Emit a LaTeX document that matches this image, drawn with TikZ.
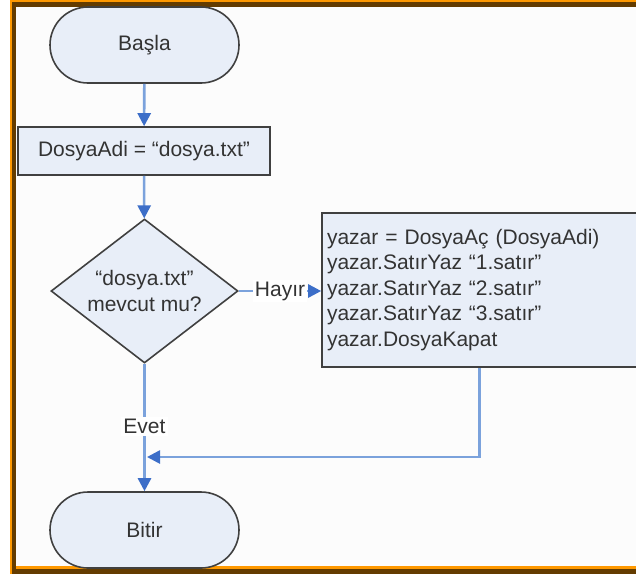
\documentclass[tikz,border=0pt]{standalone}
\usepackage{fontspec}
\setmainfont{Liberation Sans}
\usetikzlibrary{shapes.geometric,arrows.meta}
\definecolor{boxfill}{HTML}{E8EEF8}
\definecolor{boxline}{HTML}{404040}
\definecolor{txt}{HTML}{333333}
\definecolor{flow}{HTML}{7BA2DC}
\definecolor{flowtip}{HTML}{3C6EC8}
\definecolor{frameorange}{HTML}{FF9900}
\definecolor{framebrown}{HTML}{643C00}
\tikzset{
  base/.style={draw=boxline, line width=1.6pt, fill=boxfill, text=txt,
    font=\fontsize{21}{25.5}\selectfont, inner sep=0pt},
  terminal/.style={base, rectangle, rounded corners=38pt,
    minimum width=189pt, minimum height=76pt},
  process/.style={base, rectangle},
  decision/.style={base, diamond, aspect=1.3,
    minimum width=187pt, minimum height=144pt, align=center},
  flowline/.style={draw=flow, line width=2.6pt,
    -{Triangle[length=13pt,width=13pt,color=flowtip]}},
  plainline/.style={draw=flow, line width=2.6pt},
  lbl/.style={fill=white, text=txt, inner sep=2pt,
    font=\fontsize{21}{25.5}\selectfont}
}
\begin{document}
\begin{tikzpicture}[x=1pt, y=-1pt]
  \useasboundingbox (0,0) rectangle (636,574);
  \clip (0,0) rectangle (636,574);
  \fill[white] (0,0) rectangle (636,574);
  % frame: orange edge behind a dark brown band
  \fill[frameorange] (10,0) rectangle (636,2);
  \fill[frameorange] (10,0) rectangle (12,574);
  \fill[frameorange] (12,566) rectangle (636,569);
  \fill[framebrown] (12,2) rectangle (636,7);
  \fill[framebrown] (12,2) rectangle (16,574);
  \fill[framebrown] (12,569) rectangle (636,574);
  \fill[white!99!black] (16,7) rectangle (636,566);

  % flowchart nodes
  \node[terminal] (start) at (144.5,45) {Başla};
  \node[process, minimum width=252pt, minimum height=48pt] (name) at (144,151)
    {DosyaAdi = “dosya.txt”};
  \node[decision] (check) at (144.5,291) {“dosya.txt”\\mevcut mu?};
  \node[process, minimum width=315pt, minimum height=154pt,
        align=left, text width=305pt, inner sep=5pt] (write) at (479.5,290)
    {yazar = DosyaAç (DosyaAdi)\\
     yazar.SatırYaz “1.satır”\\
     yazar.SatırYaz “2.satır”\\
     yazar.SatırYaz “3.satır”\\
     yazar.DosyaKapat};
  \node[terminal] (stop) at (144.5,530) {Bitir};
  \coordinate (merge) at (147,457);

  % connectors
  \draw[flowline] (start) -- (name);
  \draw[flowline] (name) -- (check);
  \draw[flowline] (check.east) -- node[lbl] (no) {Hayır} (write.west |- check.east);
  \draw[flowline] (check) -- node[lbl, pos=0.49] (yes) {Evet} (stop);
  \draw[flowline] (write.south) |- (merge);
\end{tikzpicture}
\end{document}
